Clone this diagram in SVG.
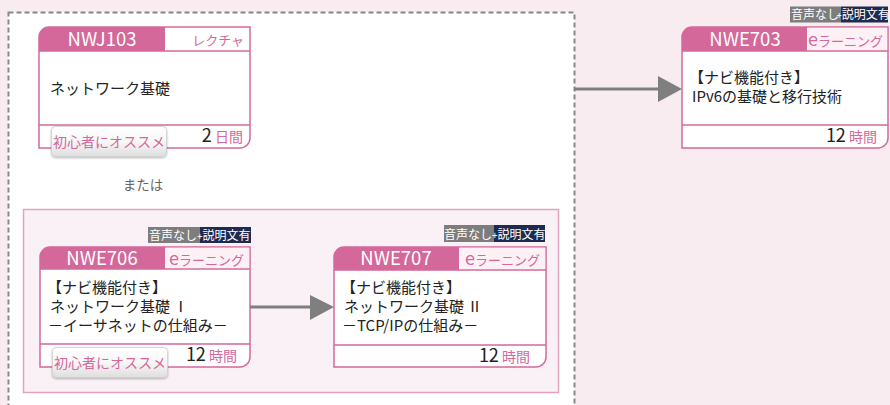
<svg xmlns="http://www.w3.org/2000/svg" width="890" height="405" viewBox="0 0 890 405">
<defs>
<linearGradient id="btn" x1="0" y1="0" x2="0" y2="1">
<stop offset="0" stop-color="#ffffff"/>
<stop offset="0.5" stop-color="#f7f7f7"/>
<stop offset="1" stop-color="#dedede"/>
</linearGradient>
<filter id="sh" x="-10%" y="-20%" width="120%" height="160%">
<feDropShadow dx="0" dy="1" stdDeviation="1" flood-color="#000" flood-opacity="0.3"/>
</filter>
</defs>
<style>
text{font-family:"Noto Sans CJK JP","Noto Sans",sans-serif}
.card{fill:#ffffff;stroke:#d4689a;stroke-width:1.5}
.hdr{fill:#d4689a}
.hsub{fill:#fdf1f6}
.ln{stroke:#d4689a;stroke-width:1.5}
.code{fill:#ffffff;font-size:18.5px;text-anchor:middle}
.type{fill:#d4689a;font-size:13px;text-anchor:end}
.big{font-size:18px}
.body{fill:#222;font-size:15px}
.dur{text-anchor:end;fill:#d4689a;font-size:14px}
.num{fill:#222;font-size:18px}
.btn{fill:url(#btn);stroke:#cfcfcf;stroke-width:0.8}
.btnt{fill:#d4689a;font-size:14px;text-anchor:middle}
.bg1{fill:#7d7d7d}
.bg2{fill:#1e2a4f}
.bt{fill:#ffffff;font-size:12px}
.conn{stroke:#7f7f80;stroke-width:3}
.head{fill:#7f7f80}
</style>
<rect x="0" y="0" width="890" height="405" fill="#f8ecf1"/>
<rect x="8.5" y="12.5" width="566" height="400" fill="#ffffff" stroke="#888888" stroke-width="2" stroke-dasharray="5 3"/>
<rect x="23.5" y="209.5" width="535" height="183" fill="#f9f1f5" stroke="#e3a3bf" stroke-width="1.5"/>
<text x="143" y="190" font-size="13.5" fill="#666" text-anchor="middle">または</text>

<g id="NWJ103">
<path class="card" d="M39 148 V37 A10 10 0 0 1 49 27 H250 V138 A10 10 0 0 1 240 148 Z"/>
<path class="hdr" d="M39 51 V37 A10 10 0 0 1 49 27 H165 V51 Z"/>
<line class="ln" x1="39" y1="51" x2="250" y2="51"/>
<line class="ln" x1="39" y1="125" x2="250" y2="125"/>
<text class="code" x="102" y="46">NWJ103</text>
<text class="type" x="244" y="45">レクチャ</text>
<text class="body" x="50" y="94">ネットワーク基礎</text>
<text class="dur" x="243" y="142"><tspan class="num">2</tspan> 日間</text>
<rect class="btn" x="51.5" y="126.5" width="115" height="30" rx="4" filter="url(#sh)"/>
<text class="btnt" x="109" y="146.5">初心者にオススメ</text>
</g>

<g id="NWE703">
<rect class="bg1" x="790" y="6.5" width="51" height="16"/>
<rect class="bg2" x="841" y="6.5" width="47" height="16"/>
<text class="bt" x="791" y="19" font-size="11">音声なし</text>
<text class="bt" x="836.5" y="19" font-size="11"><tspan font-size="9.5">+</tspan>説明文有</text>
<path class="card" d="M682 148 V37 A10 10 0 0 1 692 27 H888 V138 A10 10 0 0 1 878 148 Z"/>
<path class="hsub" d="M807.8 27.8 H887.2 V50.2 H807.8 Z"/>
<path class="hdr" d="M682 51 V37 A10 10 0 0 1 692 27 H807 V51 Z"/>
<line class="ln" x1="682" y1="51" x2="888" y2="51"/>
<line class="ln" x1="682" y1="125" x2="888" y2="125"/>
<text class="code" x="745" y="46">NWE703</text>
<text class="type" x="883" y="46"><tspan class="big">e</tspan>ラーニング</text>
<text class="body" x="689" y="83">【ナビ機能付き】</text>
<text class="body" x="692" y="102">IPv6の基礎と移行技術</text>
<text class="dur" x="877" y="142"><tspan class="num">12</tspan> 時間</text>
</g>

<g id="NWE706">
<rect class="bg1" x="148" y="227" width="52" height="16"/>
<rect class="bg2" x="200" y="227" width="51" height="16"/>
<text class="bt" x="149" y="240">音声なし<tspan font-size="10">+</tspan>説明文有</text>
<path class="card" d="M40 367 V257 A10 10 0 0 1 50 247 H250 V357 A10 10 0 0 1 240 367 Z"/>
<path class="hsub" d="M165.8 247.8 H249.2 V268.2 H165.8 Z"/>
<path class="hdr" d="M40 269 V257 A10 10 0 0 1 50 247 H165 V269 Z"/>
<line class="ln" x1="40" y1="269" x2="250" y2="269"/>
<line class="ln" x1="40" y1="344" x2="250" y2="344"/>
<text class="code" x="102" y="265">NWE706</text>
<text class="type" x="244" y="265"><tspan class="big">e</tspan>ラーニング</text>
<text class="body" x="47" y="293">【ナビ機能付き】</text>
<text class="body" x="50" y="312">ネットワーク基礎 Ⅰ</text>
<text class="body" x="48" y="331">－イーサネットの仕組み－</text>
<text class="dur" x="237" y="361"><tspan class="num">12</tspan> 時間</text>
<rect class="btn" x="52.5" y="347.5" width="115" height="30" rx="4" filter="url(#sh)"/>
<text class="btnt" x="110" y="367.5">初心者にオススメ</text>
</g>

<g id="NWE707">
<rect class="bg1" x="444" y="225" width="50" height="17"/>
<rect class="bg2" x="494" y="225" width="51" height="17"/>
<text class="bt" x="444" y="238.5">音声なし<tspan font-size="10">+</tspan>説明文有</text>
<path class="card" d="M334 367 V257 A10 10 0 0 1 344 247 H546 V357 A10 10 0 0 1 536 367 Z"/>
<path class="hsub" d="M459.8 247.8 H545.2 V269.2 H459.8 Z"/>
<path class="hdr" d="M334 270 V257 A10 10 0 0 1 344 247 H459 V270 Z"/>
<line class="ln" x1="334" y1="270" x2="546" y2="270"/>
<line class="ln" x1="334" y1="345" x2="546" y2="345"/>
<text class="code" x="396" y="265">NWE707</text>
<text class="type" x="540" y="265"><tspan class="big">e</tspan>ラーニング</text>
<text class="body" x="341" y="293">【ナビ機能付き】</text>
<text class="body" x="344" y="312">ネットワーク基礎 Ⅱ</text>
<text class="body" x="342" y="331">－TCP/IPの仕組み－</text>
<text class="dur" x="530" y="362"><tspan class="num">12</tspan> 時間</text>
</g>

<g id="connectors">
<line class="conn" x1="574" y1="89" x2="660" y2="89"/>
<polygon class="head" points="658,76 682,89 658,102"/>
<line class="conn" x1="250" y1="307" x2="312" y2="307"/>
<polygon class="head" points="310,295 334,307 310,320"/>
</g>
</svg>
